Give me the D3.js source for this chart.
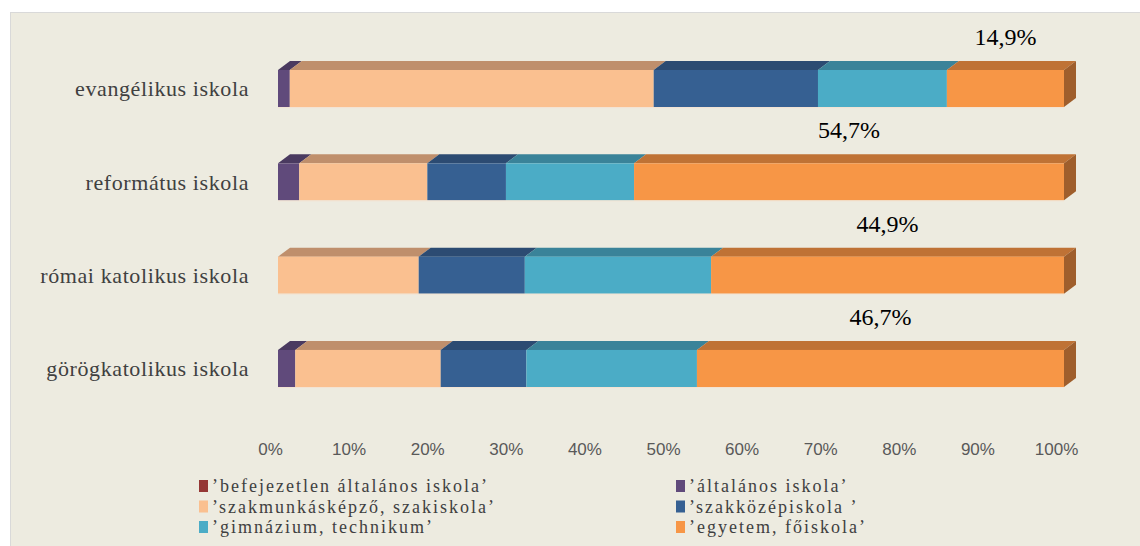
<!DOCTYPE html>
<html>
<head>
  <meta charset="utf-8">
  <title>Iskolai végzettség</title>
  <script src="https://d3js.org/d3.v7.min.js"></script>
  <style>
    body { margin: 0; background: #fff; }
  </style>
</head>
<body>
  <div id="my_dataviz"></div>
</body>

<script>
  // categories (top to bottom)
  const schools = ["evangélikus iskola", "református iskola", "római katolikus iskola", "görögkatolikus iskola"];
  const series = ["’befejezetlen általános iskola’", "’általános iskola’", "’szakmunkásképző, szakiskola’",
                  "’szakközépiskola ’", "’gimnázium, technikum’", "’egyetem, főiskola’"];

  // percentage values per school, same order as series
  const befejezetlen = [0, 0, 0, 0];
  const altalanos    = [1.5, 2.7, 0, 2.2];
  const szakmunkas   = [46.3, 16.3, 17.9, 18.5];
  const szakkozep    = [20.9, 10.0, 13.5, 10.9];
  const gimnazium    = [16.4, 16.3, 23.7, 21.7];
  const egyetem      = [14.9, 54.7, 44.9, 46.7];
  const egyetemLabels = ["14,9%", "54,7%", "44,9%", "46,7%"];
  const ticks = [0, 10, 20, 30, 40, 50, 60, 70, 80, 90, 100];

  const front = ["#953735", "#604A7B", "#FAC090", "#366092", "#4BACC6", "#F79646"];
  const topc  = ["#6e2826", "#4a3a60", "#bf8f6c", "#2c4b72", "#3a8399", "#bf7235"];
  const sidec = ["#6e2826", "#3f3151", "#b58463", "#24405f", "#327186", "#9f5e2c"];

  const W = 1140, H = 546;
  const svg = d3.select("#my_dataviz")
    .append("svg")
      .attr("width", W)
      .attr("height", H);

  // panel
  svg.append("rect")
    .attr("x", 10.5).attr("y", 12.5)
    .attr("width", W).attr("height", H)
    .attr("fill", "#EDEBE0")
    .attr("stroke", "#d9d9d9");

  const x = d3.scaleLinear().domain([0, 100]).range([278, 1064]);
  const y = d3.scaleBand().domain(schools).range([70, 387]).paddingInner(0.603).paddingOuter(0);
  const dx = 12, dy = 9;

  const cols = [befejezetlen, altalanos, szakmunkas, szakkozep, gimnazium, egyetem];
  const data = schools.map((s, i) => {
    let cum = 0;
    const segs = cols.map((c, k) => {
      const d = { school: s, k: k, v: c[i], x0: cum, x1: cum + c[i] };
      cum += c[i];
      return d;
    }).filter(d => d.v > 0);
    return { school: s, segs: segs, label: egyetemLabels[i] };
  });

  const g = svg.append("g");
  const rows = g.selectAll("g.row").data(data).enter().append("g").attr("class", "row");

  rows.each(function(r) {
    const row = d3.select(this);
    const y0 = y(r.school), y1 = y0 + y.bandwidth();
    r.segs.forEach((d, j) => {
      const a = x(d.x0), b = x(d.x1);
      // top face
      row.append("path")
        .attr("d", `M${a},${y0}L${b},${y0}L${b + dx},${y0 - dy}L${a + dx},${y0 - dy}Z`)
        .attr("fill", topc[d.k]);
      // front face
      row.append("rect")
        .attr("x", a).attr("y", y0)
        .attr("width", b - a).attr("height", y1 - y0)
        .attr("fill", front[d.k]);
      // right side on last segment
      if (j === r.segs.length - 1) {
        row.append("path")
          .attr("d", `M${b},${y0}L${b + dx},${y0 - dy}L${b + dx},${y1 - dy}L${b},${y1}Z`)
          .attr("fill", sidec[d.k]);
      }
    });
    // light bottom edge
    row.append("line")
      .attr("x1", x(0)).attr("x2", x(100))
      .attr("y1", y1 + 0.5).attr("y2", y1 + 0.5)
      .attr("stroke", "#f3e3d3").attr("stroke-width", 1);

    // egyetem label
    const last = r.segs[r.segs.length - 1];
    row.append("text")
      .attr("x", (x(last.x0) + x(last.x1)) / 2)
      .attr("y", y0 - 25)
      .attr("text-anchor", "middle")
      .style("font-family", "'Liberation Serif', 'Times New Roman', serif")
      .style("font-size", "24px")
      .attr("fill", "#000")
      .text(r.label);

    // category label
    row.append("text")
      .attr("x", 249)
      .attr("y", (y0 + y1) / 2)
      .attr("dy", "0.35em")
      .attr("text-anchor", "end")
      .style("font-family", "'Liberation Serif', 'Times New Roman', serif")
      .style("font-size", "22px")
      .style("letter-spacing", "0.6px")
      .attr("fill", "#404040")
      .text(r.school);
  });

  // x axis (labels sit on the back plane, a bit left of the bar fronts)
  const axis = svg.append("g")
    .attr("transform", "translate(-8,449)")
    .call(d3.axisBottom(x).tickValues(ticks).tickFormat(d => d + "%").tickSize(0).tickPadding(0));
  axis.select(".domain").remove();
  axis.selectAll("text")
    .attr("dy", "0.35em")
    .style("font-family", "'Liberation Sans', Arial, sans-serif")
    .style("font-size", "17px")
    .attr("fill", "#595959");

  // legend
  const legend = svg.append("g");
  const items = legend.selectAll("g").data(series).enter().append("g")
    .attr("transform", (d, i) => `translate(${i % 2 === 0 ? 199 : 676},${486 + Math.floor(i / 2) * 20.5})`);
  items.append("rect")
    .attr("x", 0).attr("y", -6)
    .attr("width", 9).attr("height", 12)
    .attr("fill", (d, i) => front[i]);
  items.append("text")
    .attr("x", 13).attr("y", 0)
    .attr("dy", "0.35em")
    .style("font-family", "'Liberation Serif', 'Times New Roman', serif")
    .style("font-size", "18px")
    .style("letter-spacing", "2px")
    .attr("fill", "#404040")
    .text(d => d);
</script>

</html>
